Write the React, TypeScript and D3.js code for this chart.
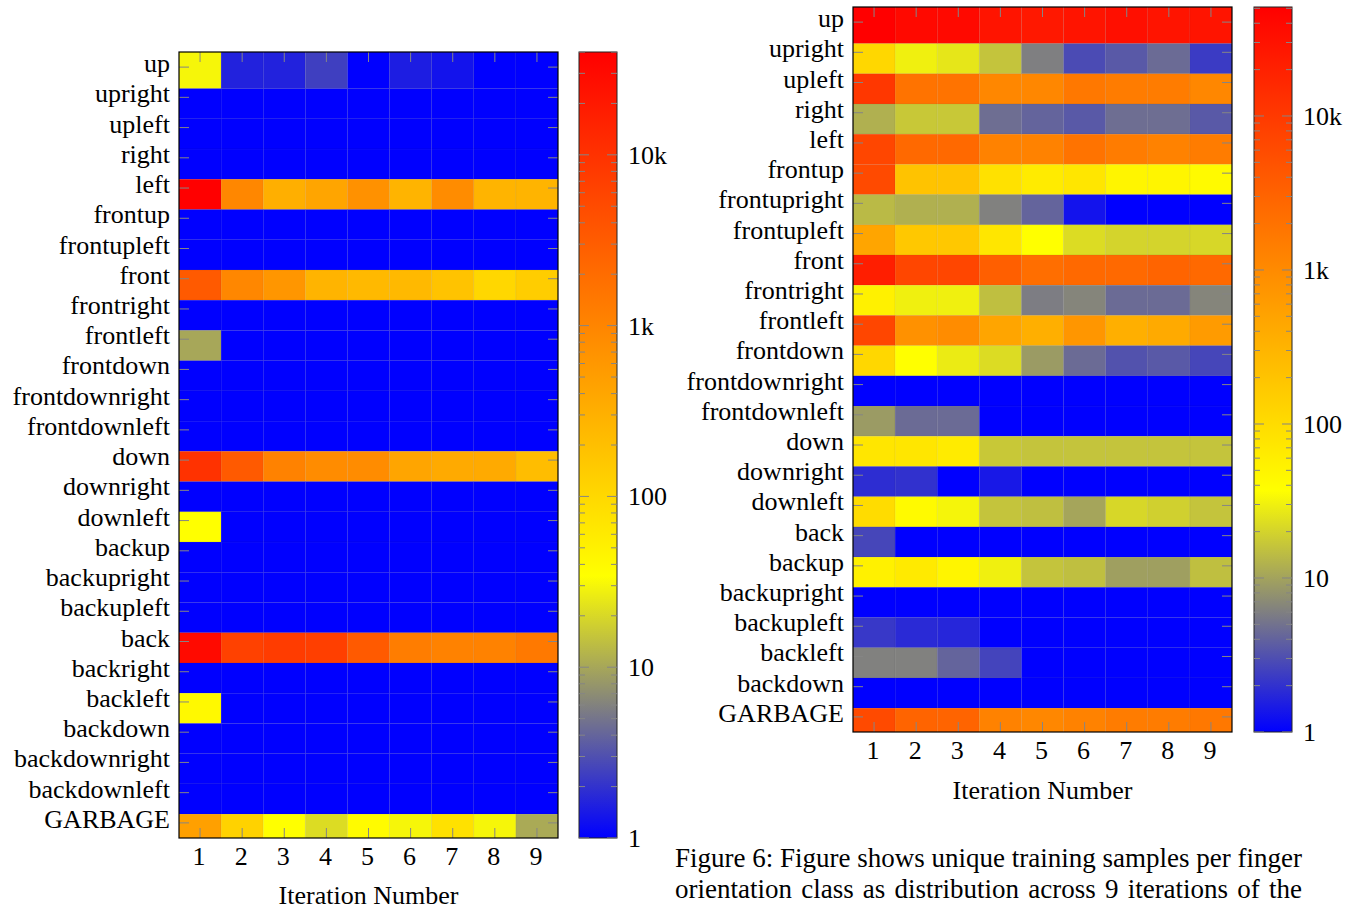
import React, { useEffect, useRef } from 'react';
import * as d3 from 'd3';

// iterations on the x axis
const iterations = [1, 2, 3, 4, 5, 6, 7, 8, 9];

// left heatmap
const leftRows = [
  'up', 'upright', 'upleft', 'right', 'left', 'frontup', 'frontupleft', 'front',
  'frontright', 'frontleft', 'frontdown', 'frontdownright', 'frontdownleft', 'down',
  'downright', 'downleft', 'backup', 'backupright', 'backupleft', 'back', 'backright',
  'backleft', 'backdown', 'backdownright', 'backdownleft', 'GARBAGE',
];
const ones = [1, 1, 1, 1, 1, 1, 1, 1, 1];
const leftValues = [
  [30, 1.6, 1.6, 2.4, 1, 1.5, 1.3, 1, 1],
  ones, ones, ones,
  [40000, 950, 310, 415, 720, 272, 820, 272, 272],
  ones, ones,
  [3300, 950, 625, 272, 240, 240, 180, 103, 136],
  ones,
  [10, 1, 1, 1, 1, 1, 1, 1, 1],
  ones, ones, ones,
  [10000, 3300, 1090, 820, 820, 415, 360, 360, 210],
  ones,
  [34, 1, 1, 1, 1, 1, 1, 1, 1],
  ones, ones, ones,
  [30000, 6600, 7500, 7000, 3300, 1250, 1090, 1090, 1400],
  ones,
  [40, 1, 1, 1, 1, 1, 1, 1, 1],
  ones, ones, ones,
  [475, 120, 34, 21, 38, 30, 79, 30, 10.5],
];
const leftMax = 40000;

// right heatmap
const rightRows = [
  'up', 'upright', 'upleft', 'right', 'left', 'frontup', 'frontupright', 'frontupleft',
  'front', 'frontright', 'frontleft', 'frontdown', 'frontdownright', 'frontdownleft',
  'down', 'downright', 'downleft', 'back', 'backup', 'backupright', 'backupleft',
  'backleft', 'backdown', 'GARBAGE',
];
const rightValues = [
  [51000, 40000, 40000, 29000, 26000, 29000, 33000, 29000, 29000],
  [115, 30, 26, 16, 6, 2.9, 3.5, 4.5, 2.3],
  [10700, 1960, 1960, 1110, 1110, 1700, 1500, 1500, 1110],
  [12, 17, 17, 4.7, 4.1, 3.5, 4.7, 4.7, 3.5],
  [7000, 2600, 2600, 1290, 1290, 1960, 1500, 1290, 1500],
  [6200, 204, 204, 87, 65, 75, 49, 49, 43],
  [13.8, 12, 12, 6.2, 4.1, 1.3, 1, 1, 1],
  [480, 177, 177, 75, 37, 22.5, 20, 20, 21],
  [22000, 7000, 7000, 3450, 2250, 2600, 2600, 3000, 2600],
  [55, 30, 30, 15, 5.8, 6.5, 4.5, 4.5, 6.5],
  [7000, 840, 960, 480, 357, 730, 357, 410, 630],
  [115, 37, 28, 22.5, 9, 4.5, 3.2, 3.5, 2.7],
  ones,
  [9, 4.5, 4.5, 1, 1, 1, 1, 1, 1],
  [75, 75, 65, 17, 16, 16, 16, 16, 16],
  [1.9, 2.0, 1, 1.4, 1, 1, 1, 1, 1],
  [100, 43, 32, 16, 15, 10.3, 21, 19, 16],
  [2.7, 1, 1, 1, 1, 1, 1, 1, 1],
  [55, 68, 49, 30, 16, 15, 9.5, 9.5, 15],
  ones,
  [2.2, 1.8, 1.7, 1, 1, 1, 1, 1, 1],
  [6.2, 6.2, 4.1, 2.6, 1, 1, 1, 1, 1],
  ones,
  [6200, 3000, 3000, 1290, 1110, 1290, 1500, 1500, 1700],
];
const rightMax = 51000;

// colorbar ticks
const cbTicks = [1, 10, 100, 1000, 10000];
const cbLabels = ['1', '10', '100', '1k', '10k'];

const captionLines = [
  'Figure 6: Figure shows unique training samples per finger',
  'orientation class as distribution across 9 iterations of the',
];

const FONT = '"Liberation Serif", "Times New Roman", serif';
const TICK = '#858585';

const cmapStops = [0, 1 / 6, 1 / 3, 1];
const cmapColors = ['#0000ff', '#808080', '#ffff00', '#ff0000'];
const cmap = d3.scaleLinear<string>().domain(cmapStops).range(cmapColors).interpolate(d3.interpolateRgb).clamp(true);

function Heatmap({ id, rows, values, vmax, x0, x1, y0, y1, cx0, cx1, labelRight, xLabelY, titleY }) {
  const n = rows.length;
  const x = d3.scaleLinear().domain([0.5, 9.5]).range([x0, x1]);
  const y = d3.scaleLinear().domain([-0.5, n - 0.5]).range([y0, y1]);
  const cb = d3.scaleLog().domain([1, vmax]).range([y1, y0]);
  const color = (v) => cmap(Math.log10(v) / Math.log10(vmax));

  const minor = [];
  [1, 10, 100, 1000, 10000].forEach(d => {
    for (let m = 2; m <= 9; m++) if (d * m <= vmax) minor.push(d * m);
  });

  return (
    <g>
      <defs>
        <linearGradient id={id + 'grad'} x1="0" y1="1" x2="0" y2="0">
          {cmapStops.map((s, i) => <stop key={i} offset={s} stopColor={cmapColors[i]} />)}
        </linearGradient>
        <clipPath id={id + 'clip'}>
          <rect x={x0} y={y0} width={x1 - x0} height={y1 - y0} />
        </clipPath>
      </defs>

      <g clipPath={`url(#${id}clip)`}>
        {values.map((row, i) =>
          row.map((v, j) => {
            const top = i === 0 ? y0 : y(i - 0.29);
            const bot = i === n - 1 ? y1 : y(i + 0.71);
            return (
              <rect key={i + '-' + j}
                x={x(iterations[j] - 0.5)} y={top}
                width={x(iterations[j] + 0.5) - x(iterations[j] - 0.5)} height={bot - top}
                fill={color(v)} stroke="rgba(0,0,0,0.06)" strokeWidth={0.8} />
            );
          })
        )}
      </g>

      {/* y ticks */}
      {rows.map((r, i) => (
        <g key={r + i}>
          <line x1={x0} x2={x0 + 10} y1={y(i)} y2={y(i)} stroke={TICK} />
          <line x1={x1} x2={x1 - 10} y1={y(i)} y2={y(i)} stroke={TICK} />
          <text x={labelRight} y={y(i) + 5} textAnchor="end" fontSize={26} fontFamily={FONT}>{r}</text>
        </g>
      ))}

      {/* x ticks */}
      {iterations.map(it => (
        <g key={it}>
          <line x1={x(it)} x2={x(it)} y1={y0} y2={y0 + 10} stroke={TICK} />
          <line x1={x(it)} x2={x(it)} y1={y1} y2={y1 - 10} stroke={TICK} />
          <text x={x(it) - 1} y={xLabelY} textAnchor="middle" fontSize={26} fontFamily={FONT}>{it}</text>
        </g>
      ))}
      <text x={(x0 + x1) / 2} y={titleY} textAnchor="middle" fontSize={26} fontFamily={FONT}>Iteration Number</text>

      <rect x={x0} y={y0} width={x1 - x0} height={y1 - y0} fill="none" stroke="#000" strokeWidth={1.2} />

      {/* colorbar */}
      <rect x={cx0} y={y0} width={cx1 - cx0} height={y1 - y0} fill={`url(#${id}grad)`} stroke="#222" strokeWidth={1} />
      {minor.map(v => (
        <g key={'m' + v}>
          <line x1={cx0} x2={cx0 + 6} y1={cb(v)} y2={cb(v)} stroke={TICK} />
          <line x1={cx1} x2={cx1 - 6} y1={cb(v)} y2={cb(v)} stroke={TICK} />
        </g>
      ))}
      {cbTicks.map((v, i) => (
        <g key={'t' + v}>
          <line x1={cx0} x2={cx0 + 10} y1={cb(v)} y2={cb(v)} stroke={TICK} />
          <line x1={cx1} x2={cx1 - 10} y1={cb(v)} y2={cb(v)} stroke={TICK} />
          <text x={cx1 + 11} y={cb(v) + 9} fontSize={26} fontFamily={FONT}>{cbLabels[i]}</text>
        </g>
      ))}
    </g>
  );
}

// justified caption: adjust the word spacing so each line fills the column
function Caption() {
  const ref = useRef(null);
  const width = 627;
  useEffect(() => {
    d3.select(ref.current).selectAll('text').each(function () {
      const t = this as SVGTextElement;
      t.setAttribute('word-spacing', '0');
      const len = t.getComputedTextLength();
      const spaces = (t.textContent.match(/ /g) || []).length;
      if (spaces) t.setAttribute('word-spacing', String((width - len) / spaces));
    });
  }, []);
  return (
    <g ref={ref}>
      {captionLines.map((l, i) => (
        <text key={i} x={675} y={867 + i * 31} fontSize={27} fontFamily={FONT}>{l}</text>
      ))}
    </g>
  );
}

export default function App() {
  return (
    <svg width={1359} height={909} style={{ position: 'absolute', left: 0, top: 0, background: '#fff' }}>
      <Heatmap id="L" rows={leftRows} values={leftValues} vmax={leftMax}
        x0={179} x1={558} y0={52} y1={838} cx0={579} cx1={617}
        labelRight={170} xLabelY={865} titleY={904} />
      <Heatmap id="R" rows={rightRows} values={rightValues} vmax={rightMax}
        x0={853} x1={1232} y0={7} y1={732} cx0={1254} cx1={1292}
        labelRight={844} xLabelY={759} titleY={799} />
      <Caption />
    </svg>
  );
}
